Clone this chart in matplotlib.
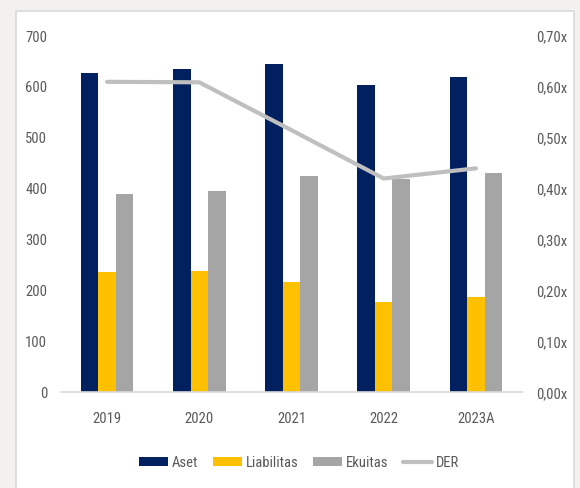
import matplotlib
matplotlib.use("Agg")
import matplotlib.pyplot as plt
from matplotlib import font_manager
from matplotlib.patches import Rectangle
import numpy as np

categories = ["2019", "2020", "2021", "2022", "2023A"]
aset = [627, 636, 645, 603, 620]
liabilitas = [236, 238, 217, 177, 187]
ekuitas = [389, 395, 425, 420, 430]
der = [0.610, 0.609, 0.515, 0.420, 0.440]
left_ticks = [0, 100, 200, 300, 400, 500, 600, 700]
right_ticks = [0.0, 0.1, 0.2, 0.3, 0.4, 0.5, 0.6, 0.7]

names = {f.name for f in font_manager.fontManager.ttflist}
fam = "DejaVu Sans"
for cand in ["Liberation Sans Narrow", "Roboto Condensed", "Open Sans Condensed"]:
    if cand in names:
        fam = cand
        break
plt.rcParams["font.family"] = [fam, "DejaVu Sans"]
plt.rcParams["font.stretch"] = "condensed"
txt = "#595959"
fs = 10.5

fig = plt.figure(figsize=(5.8, 4.88), dpi=100)
fig.patch.set_facecolor("#f2f1ed")
bg = Rectangle((16/580, -0.01), (574-16)/580, (488-11)/488 + 0.01,
               transform=fig.transFigure, facecolor="white",
               edgecolor="#d9d9d9", linewidth=1.2, zorder=-10)
fig.patches.append(bg)

ax = fig.add_axes([61/580, (488-392.3)/488, (522-61)/580, (392.3-36)/488])
ax.set_facecolor("none")
x = np.arange(len(categories))
w = 0.19
b1 = ax.bar(x - w, aset, w, color="#002060", label="Aset")
b2 = ax.bar(x, liabilitas, w, color="#FFC000", label="Liabilitas")
b3 = ax.bar(x + w, ekuitas, w, color="#A5A5A5", label="Ekuitas")
ax.set_xlim(-0.5, len(categories) - 0.5)
ax.set_ylim(0, 700)
ax.set_yticks(left_ticks)
ax.set_yticklabels([str(t) for t in left_ticks])
ax.set_xticks(x)
ax.set_xticklabels(categories)
for s in ["top", "right", "left"]:
    ax.spines[s].set_visible(False)
ax.spines["bottom"].set_color("#d9d9d9")
ax.spines["bottom"].set_linewidth(1.2)
ax.tick_params(axis="y", length=0, pad=10, labelsize=fs, labelcolor=txt)
ax.tick_params(axis="x", length=0, pad=14, labelsize=fs, labelcolor=txt)

ax2 = ax.twinx()
l1, = ax2.plot(x, der, color="#bfbfbf", linewidth=3, solid_capstyle="round", label="DER")
ax2.set_ylim(0, 0.7)
ax2.set_yticks(right_ticks)
ax2.set_yticklabels([f"{t:.2f}".replace(".", ",") + "x" for t in right_ticks])
for s in ax2.spines.values():
    s.set_visible(False)
ax2.tick_params(axis="y", length=0, pad=10, labelsize=fs, labelcolor=txt)

leg = fig.legend(handles=[b1, b2, b3, l1], labels=["Aset", "Liabilitas", "Ekuitas", "DER"],
                 loc="center", bbox_to_anchor=(299/580, (488-463)/488), ncol=4,
                 frameon=False, fontsize=fs, handlelength=2.0, handleheight=0.6,
                 handletextpad=0.25, columnspacing=1.0, labelcolor=txt)

fig.savefig("out.png", dpi=100, facecolor=fig.get_facecolor())
